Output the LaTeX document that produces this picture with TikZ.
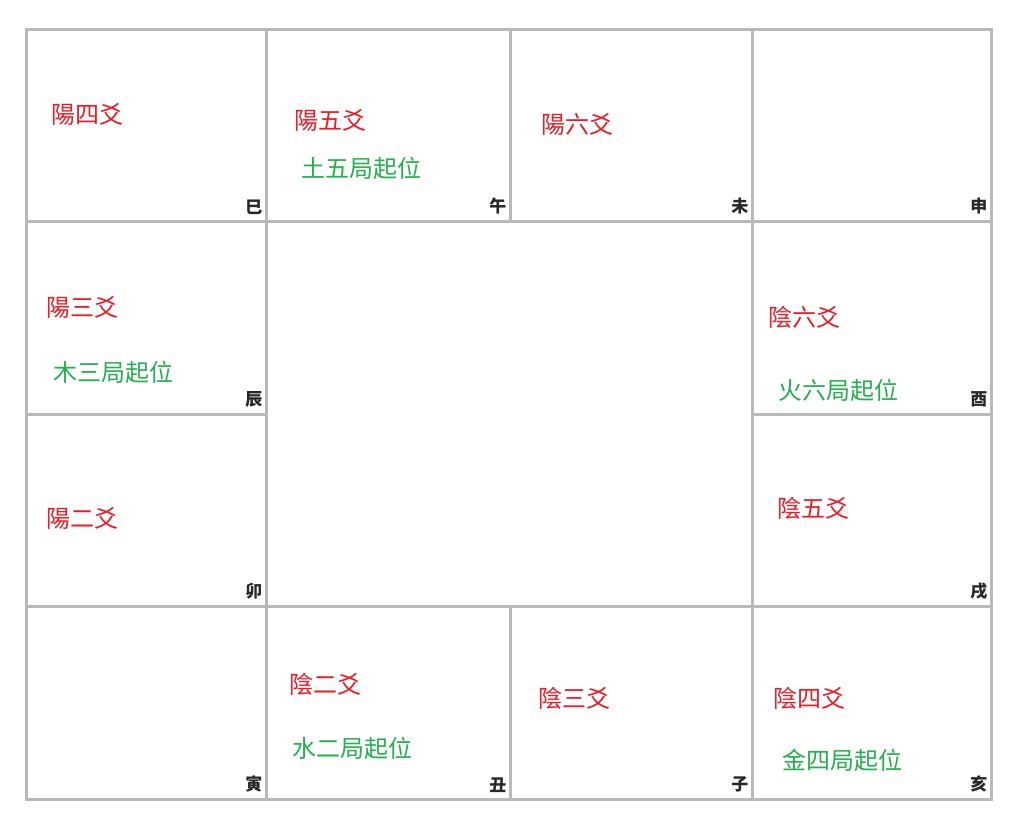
\documentclass[tikz,border=0pt]{standalone}
\usepackage{fontspec}
\newfontfamily\cjk{Noto Sans CJK TC}
\usetikzlibrary{positioning}
\definecolor{gridgray}{RGB}{185,185,185}
\definecolor{yaored}{RGB}{237,28,36}
\definecolor{jugreen}{RGB}{34,177,76}
\definecolor{branchgray}{RGB}{40,40,40}

\begin{document}
\begin{tikzpicture}[x=1pt, y=-1pt,
  palace/.style = {draw=gridgray, line width=2.5pt, anchor=north west, inner sep=0pt},
  yao/.style = {text=yaored, anchor=west, inner sep=0pt, font=\cjk\fontsize{24}{24}\selectfont},
  ju/.style = {text=jugreen, anchor=west, inner sep=0pt, font=\cjk\fontsize{24}{24}\selectfont},
  branch/.style = {text=branchgray, anchor=south east, inner sep=0pt, xshift=-5pt, yshift=8pt,
    font=\cjk\bfseries\fontsize{17}{17}\selectfont}]
\useasboundingbox (0,0) rectangle (1010,822);

% the twelve palaces
\node[palace, minimum width=240pt, minimum height=192pt] (si) at (25,28) {};
\node[palace, minimum width=244pt, minimum height=192pt] (wu) at (265,28) {};
\node[palace, minimum width=242pt, minimum height=192pt] (wei) at (509,28) {};
\node[palace, minimum width=239pt, minimum height=192pt] (shen) at (751,28) {};
\node[palace, minimum width=240pt, minimum height=193pt] (chen) at (25,220) {};
\node[palace, minimum width=239pt, minimum height=193pt] (you) at (751,220) {};
\node[palace, minimum width=240pt, minimum height=192pt] (mao) at (25,413) {};
\node[palace, minimum width=239pt, minimum height=192pt] (xu) at (751,413) {};
\node[palace, minimum width=240pt, minimum height=193pt] (yin) at (25,605) {};
\node[palace, minimum width=244pt, minimum height=193pt] (chou) at (265,605) {};
\node[palace, minimum width=242pt, minimum height=193pt] (zi) at (509,605) {};
\node[palace, minimum width=239pt, minimum height=193pt] (hai) at (751,605) {};
\node[palace, minimum width=486pt, minimum height=385pt] (centre) at (265,220) {};

\node[branch] (si-b) at (si.south east) {巳};
\node[branch] (wu-b) at (wu.south east) {午};
\node[branch] (wei-b) at (wei.south east) {未};
\node[branch] (shen-b) at (shen.south east) {申};
\node[branch] (chen-b) at (chen.south east) {辰};
\node[branch] (you-b) at (you.south east) {酉};
\node[branch] (mao-b) at (mao.south east) {卯};
\node[branch] (xu-b) at (xu.south east) {戌};
\node[branch] (yin-b) at (yin.south east) {寅};
\node[branch] (chou-b) at (chou.south east) {丑};
\node[branch] (zi-b) at (zi.south east) {子};
\node[branch] (hai-b) at (hai.south east) {亥};

% yao and ju
\node[yao] (si-yao) at (51,114) {陽四爻};
\node[yao] (wu-yao) at (294,120) {陽五爻};
\node[ju] (wu-ju) at (301,168) {土五局起位};
\node[yao] (wei-yao) at (541,124) {陽六爻};
\node[yao] (chen-yao) at (46,307) {陽三爻};
\node[ju] (chen-ju) at (53,372) {木三局起位};
\node[yao] (you-yao) at (768,317) {陰六爻};
\node[ju] (you-ju) at (778,390) {火六局起位};
\node[yao] (mao-yao) at (46,518) {陽二爻};
\node[yao] (xu-yao) at (777,508) {陰五爻};
\node[yao] (chou-yao) at (289,684) {陰二爻};
\node[ju] (chou-ju) at (292,748) {水二局起位};
\node[yao] (zi-yao) at (538,698) {陰三爻};
\node[yao] (hai-yao) at (773,698) {陰四爻};
\node[ju] (hai-ju) at (782,760) {金四局起位};
\end{tikzpicture}
\end{document}
